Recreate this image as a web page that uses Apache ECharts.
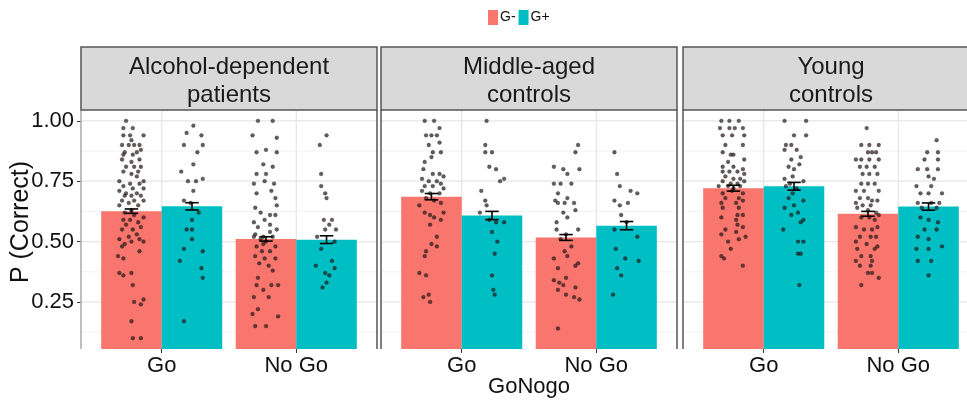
<!DOCTYPE html>
<html><head><meta charset="utf-8">
<script src="https://cdn.jsdelivr.net/npm/echarts@6/dist/echarts.min.js"></script>
<style>html,body{margin:0;padding:0;background:#fff}#c{width:967px;height:401px}</style>
</head><body><div id="c"></div>
<script>
// ---------------- DATA ----------------
const panels = ['Alcohol-dependent\npatients', 'Middle-aged\ncontrols', 'Young\ncontrols'];
const conditions = ['Go', 'No Go'];
const groups = ['G-', 'G+'];
const xTitle = 'GoNogo';
const yTitle = 'P (Correct)';
// means, order: [P1 Go, P1 NoGo, P2 Go, P2 NoGo, P3 Go, P3 NoGo]
const meanGm = [0.626, 0.511, 0.686, 0.517, 0.721, 0.615];
const meanGp = [0.646, 0.508, 0.608, 0.566, 0.729, 0.645];
const seGm = [0.009, 0.009, 0.013, 0.012, 0.012, 0.010];
const seGp = [0.015, 0.016, 0.017, 0.017, 0.016, 0.015];
const yTicks = [0.25, 0.5, 0.75, 1.0];
const yTickLabels = ['0.25', '0.50', '0.75', '1.00'];
const yMinorTicks = [0.125, 0.375, 0.625, 0.875];
const xTicks = [1, 2];
// individual points: [jitter offset (category units), P(correct)]
const ptsP1GoGm = [[-0.04,1.00],[-0.06,0.97],[0.01,0.97],[-0.06,0.94],[-0.01,0.94],[0.09,0.94],[0.00,0.92],[-0.02,0.90],[-0.07,0.90],[0.02,0.90],[0.06,0.90],[0.07,0.88],[-0.05,0.87],[0.04,0.87],[-0.06,0.86],[0.01,0.86],[0.06,0.84],[-0.07,0.84],[0.00,0.83],[0.02,0.81],[-0.04,0.81],[0.07,0.81],[-0.06,0.79],[0.05,0.79],[0.00,0.78],[0.04,0.77],[0.09,0.75],[-0.09,0.75],[-0.01,0.74],[0.06,0.74],[-0.06,0.73],[0.01,0.72],[0.09,0.72],[-0.09,0.71],[-0.04,0.70],[0.04,0.70],[-0.05,0.69],[0.00,0.69],[0.07,0.69],[-0.07,0.67],[0.02,0.67],[0.09,0.67],[-0.02,0.66],[-0.09,0.65],[0.05,0.65],[0.00,0.63],[-0.05,0.62],[0.02,0.61],[0.09,0.60],[-0.06,0.59],[-0.01,0.59],[0.05,0.58],[-0.04,0.57],[0.07,0.56],[-0.07,0.55],[0.01,0.55],[0.04,0.53],[-0.02,0.52],[0.06,0.51],[-0.09,0.51],[0.00,0.50],[-0.05,0.49],[0.09,0.50],[0.06,0.46],[-0.07,0.48],[-0.10,0.44],[-0.06,0.43],[-0.09,0.37],[-0.06,0.36],[0.00,0.37],[0.01,0.32],[0.09,0.26],[0.02,0.25],[0.07,0.24],[0.00,0.17],[0.01,0.10],[0.07,0.10]];
const ptsP1GoGp = [[0.01,0.98],[-0.04,0.95],[0.07,0.94],[-0.06,0.90],[0.08,0.90],[0.04,0.87],[0.01,0.82],[-0.08,0.79],[-0.03,0.75],[0.03,0.75],[0.08,0.76],[0.01,0.71],[-0.06,0.67],[-0.01,0.66],[0.05,0.62],[0.00,0.59],[-0.04,0.55],[0.00,0.55],[0.00,0.51],[-0.06,0.47],[0.08,0.46],[-0.09,0.42],[0.07,0.39],[0.08,0.35],[-0.06,0.17]];
const ptsP1NoGm = [[-0.06,1.00],[0.05,1.00],[-0.10,0.94],[0.08,0.93],[0.00,0.88],[-0.07,0.87],[0.08,0.87],[-0.02,0.82],[0.05,0.81],[-0.07,0.78],[0.00,0.78],[-0.09,0.74],[-0.01,0.75],[0.06,0.74],[-0.07,0.70],[0.04,0.71],[0.07,0.68],[0.08,0.65],[-0.08,0.64],[-0.04,0.62],[0.03,0.61],[0.07,0.61],[-0.09,0.58],[-0.01,0.59],[-0.06,0.56],[0.03,0.57],[0.08,0.55],[-0.08,0.53],[-0.02,0.52],[0.05,0.52],[0.00,0.50],[-0.04,0.51],[0.03,0.54],[-0.09,0.52],[-0.02,0.49],[-0.07,0.48],[0.07,0.48],[-0.03,0.46],[0.03,0.46],[-0.08,0.44],[-0.01,0.43],[0.07,0.43],[-0.05,0.41],[0.02,0.40],[0.05,0.38],[-0.06,0.35],[0.04,0.32],[0.09,0.32],[-0.07,0.32],[-0.02,0.30],[0.02,0.27],[-0.09,0.27],[-0.06,0.22],[-0.10,0.20],[0.09,0.19],[-0.08,0.15],[0.00,0.15]];
const ptsP1NoGp = [[0.00,0.94],[-0.05,0.90],[-0.04,0.78],[-0.04,0.73],[-0.01,0.70],[0.00,0.68],[-0.02,0.59],[0.04,0.59],[0.02,0.57],[0.07,0.55],[-0.01,0.55],[-0.07,0.52],[0.06,0.50],[-0.04,0.47],[0.04,0.42],[-0.08,0.40],[0.06,0.39],[-0.01,0.37],[0.02,0.36],[0.00,0.33],[-0.03,0.31]];
const ptsP2GoGm = [[-0.05,1.00],[0.02,1.00],[0.06,0.97],[-0.04,0.94],[0.00,0.94],[0.04,0.94],[-0.02,0.90],[0.06,0.91],[0.07,0.87],[0.01,0.87],[0.00,0.85],[-0.05,0.83],[-0.06,0.80],[0.01,0.78],[0.06,0.78],[0.09,0.77],[-0.07,0.76],[-0.02,0.75],[0.04,0.75],[0.07,0.74],[-0.05,0.73],[0.01,0.73],[-0.07,0.71],[-0.01,0.70],[0.06,0.70],[0.09,0.72],[-0.04,0.68],[0.02,0.67],[0.07,0.66],[-0.09,0.65],[0.09,0.62],[-0.05,0.62],[-0.01,0.61],[0.02,0.60],[0.07,0.59],[-0.01,0.57],[0.04,0.52],[0.00,0.49],[0.04,0.48],[-0.04,0.46],[-0.05,0.44],[-0.09,0.37],[-0.04,0.36],[-0.02,0.28],[-0.06,0.27],[-0.01,0.25]];
const ptsP2GoGp = [[-0.04,1.00],[-0.05,0.90],[-0.05,0.87],[0.00,0.87],[-0.02,0.81],[0.03,0.80],[0.06,0.75],[0.09,0.76],[-0.08,0.71],[-0.05,0.67],[-0.04,0.65],[-0.09,0.62],[-0.02,0.59],[0.03,0.58],[0.09,0.58],[0.00,0.54],[0.04,0.50],[0.02,0.45],[0.00,0.36],[0.01,0.30],[0.02,0.28]];
const ptsP2NoGm = [[0.09,0.90],[0.07,0.87],[-0.09,0.81],[-0.02,0.80],[0.01,0.78],[0.10,0.80],[-0.09,0.74],[-0.04,0.74],[0.04,0.74],[-0.06,0.70],[0.01,0.68],[-0.08,0.67],[0.06,0.66],[-0.06,0.66],[-0.01,0.66],[0.07,0.63],[-0.02,0.62],[0.01,0.60],[-0.07,0.58],[0.09,0.55],[-0.07,0.55],[0.00,0.53],[-0.04,0.51],[0.04,0.48],[-0.01,0.46],[0.01,0.44],[-0.09,0.43],[0.09,0.41],[0.07,0.40],[-0.06,0.39],[0.00,0.35],[-0.09,0.34],[-0.05,0.33],[-0.02,0.32],[0.07,0.31],[-0.06,0.30],[0.00,0.28],[0.06,0.27],[0.10,0.26],[-0.06,0.14]];
const ptsP2NoGp = [[-0.09,0.87],[-0.07,0.78],[-0.05,0.73],[0.03,0.71],[0.08,0.70],[-0.09,0.67],[0.01,0.66],[-0.05,0.65],[-0.04,0.61],[0.00,0.58],[-0.09,0.55],[0.08,0.52],[-0.08,0.47],[-0.01,0.43],[0.09,0.42],[-0.07,0.39],[-0.04,0.36],[-0.10,0.28]];
const ptsP3GoGm = [[-0.09,1.00],[-0.03,1.00],[0.04,1.00],[-0.10,0.97],[-0.03,0.97],[0.01,0.97],[0.07,0.97],[-0.08,0.94],[-0.01,0.94],[0.08,0.94],[-0.06,0.90],[0.07,0.90],[-0.08,0.87],[-0.02,0.86],[0.00,0.86],[0.08,0.84],[-0.04,0.83],[-0.08,0.81],[0.00,0.81],[0.07,0.80],[-0.08,0.79],[-0.03,0.79],[0.03,0.79],[0.08,0.78],[-0.06,0.77],[0.00,0.76],[0.05,0.76],[-0.08,0.75],[-0.02,0.74],[0.03,0.74],[0.08,0.75],[-0.11,0.73],[-0.04,0.73],[0.00,0.72],[0.05,0.73],[-0.08,0.70],[-0.01,0.71],[0.07,0.70],[-0.06,0.68],[0.04,0.68],[-0.09,0.66],[0.02,0.66],[0.07,0.67],[-0.08,0.64],[0.04,0.64],[0.03,0.61],[0.07,0.61],[-0.09,0.60],[0.02,0.59],[0.03,0.57],[-0.06,0.55],[0.07,0.56],[-0.09,0.53],[0.02,0.54],[0.09,0.52],[-0.04,0.50],[0.04,0.51],[-0.02,0.47],[-0.09,0.44],[-0.07,0.43],[0.07,0.40]];
const ptsP3GoGp = [[-0.07,1.00],[0.09,1.00],[0.00,0.94],[0.09,0.94],[-0.06,0.90],[-0.02,0.90],[0.02,0.88],[-0.07,0.88],[0.05,0.85],[-0.02,0.84],[-0.04,0.81],[0.00,0.80],[0.04,0.82],[-0.01,0.77],[-0.07,0.76],[-0.03,0.74],[0.07,0.75],[-0.06,0.73],[0.02,0.72],[-0.01,0.70],[-0.04,0.68],[0.07,0.67],[0.00,0.65],[0.03,0.62],[-0.07,0.64],[-0.02,0.61],[0.07,0.59],[0.05,0.58],[-0.08,0.55],[0.03,0.50],[0.07,0.50],[0.03,0.45],[0.05,0.45],[0.04,0.32]];
const ptsP3NoGm = [[-0.01,0.97],[-0.05,0.90],[0.01,0.90],[0.08,0.90],[0.00,0.87],[0.03,0.87],[0.06,0.87],[-0.09,0.84],[-0.05,0.84],[0.01,0.84],[0.08,0.84],[-0.06,0.81],[-0.01,0.81],[0.05,0.81],[-0.04,0.78],[0.01,0.78],[0.07,0.78],[-0.05,0.74],[0.00,0.74],[0.05,0.74],[-0.09,0.71],[-0.03,0.71],[0.08,0.71],[-0.06,0.68],[0.00,0.68],[0.03,0.67],[0.07,0.67],[-0.09,0.66],[-0.04,0.65],[0.02,0.65],[-0.08,0.64],[0.00,0.63],[0.06,0.62],[0.08,0.61],[-0.05,0.60],[0.01,0.60],[0.05,0.59],[-0.09,0.56],[-0.03,0.55],[0.03,0.55],[0.07,0.56],[-0.06,0.52],[0.02,0.52],[0.06,0.52],[-0.09,0.50],[-0.01,0.49],[-0.08,0.47],[0.05,0.47],[0.07,0.48],[-0.05,0.44],[0.02,0.44],[-0.09,0.42],[0.03,0.42],[-0.06,0.40],[0.02,0.40],[0.08,0.35],[0.00,0.37],[0.03,0.37],[-0.05,0.32]];
const ptsP3NoGp = [[0.06,0.92],[-0.01,0.87],[0.07,0.87],[-0.03,0.84],[0.07,0.84],[-0.08,0.80],[-0.01,0.80],[0.07,0.80],[0.00,0.77],[0.04,0.76],[-0.09,0.73],[0.02,0.73],[-0.06,0.70],[0.00,0.70],[0.10,0.70],[-0.08,0.66],[0.02,0.66],[0.08,0.66],[-0.05,0.64],[0.06,0.64],[-0.06,0.60],[0.00,0.59],[0.07,0.58],[-0.03,0.55],[0.06,0.55],[-0.08,0.52],[0.00,0.51],[0.10,0.48],[-0.09,0.47],[0.00,0.47],[-0.08,0.42],[0.02,0.42],[0.00,0.36]];
const points = [
  [[ptsP1GoGm, ptsP1NoGm], [ptsP1GoGp, ptsP1NoGp]],
  [[ptsP2GoGm, ptsP2NoGm], [ptsP2GoGp, ptsP2NoGp]],
  [[ptsP3GoGm, ptsP3NoGm], [ptsP3GoGp, ptsP3NoGp]]
];

// ---------------- LAYOUT / STYLE ----------------
const colors = ['#F8766D', '#00BFC4'];
const FONT = '"Liberation Sans", Arial, sans-serif';
const L = { lefts: [81, 381, 683], width: 296, top: 110, height: 239, stripTop: 47,
            xMin: 0.4, xMax: 2.6, yMin: 0.055, yMax: 1.045, dodge: 0.45, cap: 0.05, jitterCenter: 0.225 };

const chart = echarts.init(document.getElementById('c'), null, { renderer: 'canvas' });

const grids = [], xAxes = [], yAxes = [], series = [], graphics = [];

panels.forEach((name, p) => {
  grids.push({ left: L.lefts[p], top: L.top, width: L.width, height: L.height,
               containLabel: false, outerBoundsMode: 'none' });
  xAxes.push({
    type: 'value', gridIndex: p, min: L.xMin, max: L.xMax,
    axisLine: { show: false }, splitLine: { show: false },
    axisTick: { show: true, customValues: xTicks, length: 4, lineStyle: { color: '#333', width: 1 } },
    axisLabel: { show: true, customValues: xTicks, formatter: v => conditions[Math.round(v) - 1],
                 fontSize: 22, color: '#111', fontFamily: FONT, margin: 6 }
  });
  yAxes.push({
    type: 'value', gridIndex: p, min: L.yMin, max: L.yMax,
    axisLine: { show: false }, splitLine: { show: false },
    axisTick: { show: p === 0, customValues: yTicks, length: 4, lineStyle: { color: '#333', width: 1 } },
    axisLabel: { show: p === 0, customValues: yTicks, formatter: v => yTickLabels[yTicks.indexOf(v)],
                 fontSize: 22, color: '#111', fontFamily: FONT, margin: 7 }
  });

  // grid lines
  const gl = [];
  yMinorTicks.forEach(v => gl.push([0, v]));
  yTicks.forEach(v => gl.push([1, v]));
  xTicks.forEach(v => gl.push([2, v]));
  series.push({
    type: 'custom', xAxisIndex: p, yAxisIndex: p, z: 1, silent: true, data: gl,
    renderItem: (params, api) => {
      const kind = api.value(0), v = api.value(1);
      let a, b;
      if (kind === 2) { a = api.coord([v, L.yMin]); b = api.coord([v, L.yMax]); }
      else { a = api.coord([L.xMin, v]); b = api.coord([L.xMax, v]); }
      return { type: 'line', shape: { x1: a[0], y1: a[1], x2: b[0], y2: b[1] },
               style: { stroke: kind === 0 ? '#f2f2f2' : '#e6e6e6', lineWidth: kind === 0 ? 1 : 1.3 } };
    }
  });

  // bars
  groups.forEach((g, gi) => {
    const means = gi === 0 ? meanGm : meanGp;
    const data = conditions.map((c, ci) => {
      const x = ci + 1;
      const left = x - L.dodge + gi * L.dodge;
      return [left, left + L.dodge, means[p * 2 + ci]];
    });
    series.push({
      type: 'custom', name: g, xAxisIndex: p, yAxisIndex: p, z: 2,
      itemStyle: { color: colors[gi] }, data,
      renderItem: (params, api) => {
        const a = api.coord([api.value(0), api.value(2)]);
        const b = api.coord([api.value(1), 0]);
        const cs = params.coordSys;
        const shape = echarts.graphic.clipRectByRect(
          { x: a[0], y: a[1], width: b[0] - a[0], height: b[1] - a[1] },
          { x: cs.x, y: cs.y, width: cs.width, height: cs.height });
        return shape ? { type: 'rect', shape, style: { fill: colors[gi] } } : null;
      }
    });
  });

  // jittered points
  groups.forEach((g, gi) => {
    const data = [];
    conditions.forEach((c, ci) => {
      const cx = ci + 1 - L.jitterCenter + gi * L.dodge;
      points[p][gi][ci].forEach(([dx, v]) => data.push([cx + dx, v]));
    });
    series.push({
      type: 'scatter', name: 'pts', xAxisIndex: p, yAxisIndex: p, z: 3, silent: true,
      symbol: 'circle', symbolSize: 3.8, data,
      itemStyle: { color: 'rgba(45,30,30,0.9)', borderColor: 'rgba(0,0,0,0.6)', borderWidth: 0.5 }
    });
  });

  // error bars
  const eb = [];
  groups.forEach((g, gi) => {
    const means = gi === 0 ? meanGm : meanGp;
    const ses = gi === 0 ? seGm : seGp;
    conditions.forEach((c, ci) => {
      const m = means[p * 2 + ci], s = ses[p * 2 + ci];
      eb.push([ci + 1 - L.jitterCenter + gi * L.dodge, m - s, m + s]);
    });
  });
  series.push({
    type: 'custom', xAxisIndex: p, yAxisIndex: p, z: 4, silent: true, data: eb,
    renderItem: (params, api) => {
      const x = api.value(0), lo = api.value(1), hi = api.value(2);
      const t = api.coord([x, hi]), bt = api.coord([x, lo]);
      const tl = api.coord([x - L.cap, hi]), tr = api.coord([x + L.cap, hi]);
      const bl = api.coord([x - L.cap, lo]), br = api.coord([x + L.cap, lo]);
      const st = { stroke: '#000', lineWidth: 1.6 };
      return { type: 'group', children: [
        { type: 'line', shape: { x1: t[0], y1: t[1], x2: bt[0], y2: bt[1] }, style: st },
        { type: 'line', shape: { x1: tl[0], y1: tl[1], x2: tr[0], y2: tr[1] }, style: st },
        { type: 'line', shape: { x1: bl[0], y1: bl[1], x2: br[0], y2: br[1] }, style: st }
      ] };
    }
  });

  // strip
  const sx = L.lefts[p];
  graphics.push({ type: 'rect', shape: { x: sx, y: L.stripTop, width: L.width, height: L.top - L.stripTop },
                  style: { fill: '#d9d9d9', stroke: '#555', lineWidth: 1.5 }, z: 10 });
  graphics.push({ type: 'text', x: sx + L.width / 2, y: L.stripTop + (L.top - L.stripTop) / 2 + 3, z: 11,
                  style: { text: name, align: 'center', verticalAlign: 'middle', fill: '#1a1a1a',
                           font: '24px ' + FONT, lineHeight: 28 } });
});

// axis titles
graphics.push({ type: 'text', x: 21, y: 222, rotation: Math.PI / 2, z: 11,
                style: { text: yTitle, align: 'center', verticalAlign: 'middle', fill: '#111',
                         font: '25px ' + FONT } });
graphics.push({ type: 'text', x: 529, y: 387, z: 11,
                style: { text: xTitle, align: 'center', verticalAlign: 'middle', fill: '#111',
                         font: '22px ' + FONT } });

// panel borders
[[L.lefts[0] + L.width, '#555'], [L.lefts[1], '#555'], [L.lefts[1] + L.width, '#555'], [L.lefts[2], '#555'], [L.lefts[0], '#aaa']]
  .forEach(([x, c]) => graphics.push({ type: 'line', z: 9,
    shape: { x1: x, y1: L.top, x2: x, y2: L.top + L.height }, style: { stroke: c, lineWidth: 1.5 } }));

chart.setOption({
  animation: false,
  backgroundColor: '#fff',
  legend: { data: groups, left: 488, top: 10, icon: 'rect', itemWidth: 10, itemHeight: 15, itemGap: 3,
            padding: 0, textStyle: { fontSize: 14, color: '#111', fontFamily: FONT, padding: [0, 0, 0, -3] } },
  grid: grids, xAxis: xAxes, yAxis: yAxes, series, graphic: graphics
});
</script>
</body></html>
